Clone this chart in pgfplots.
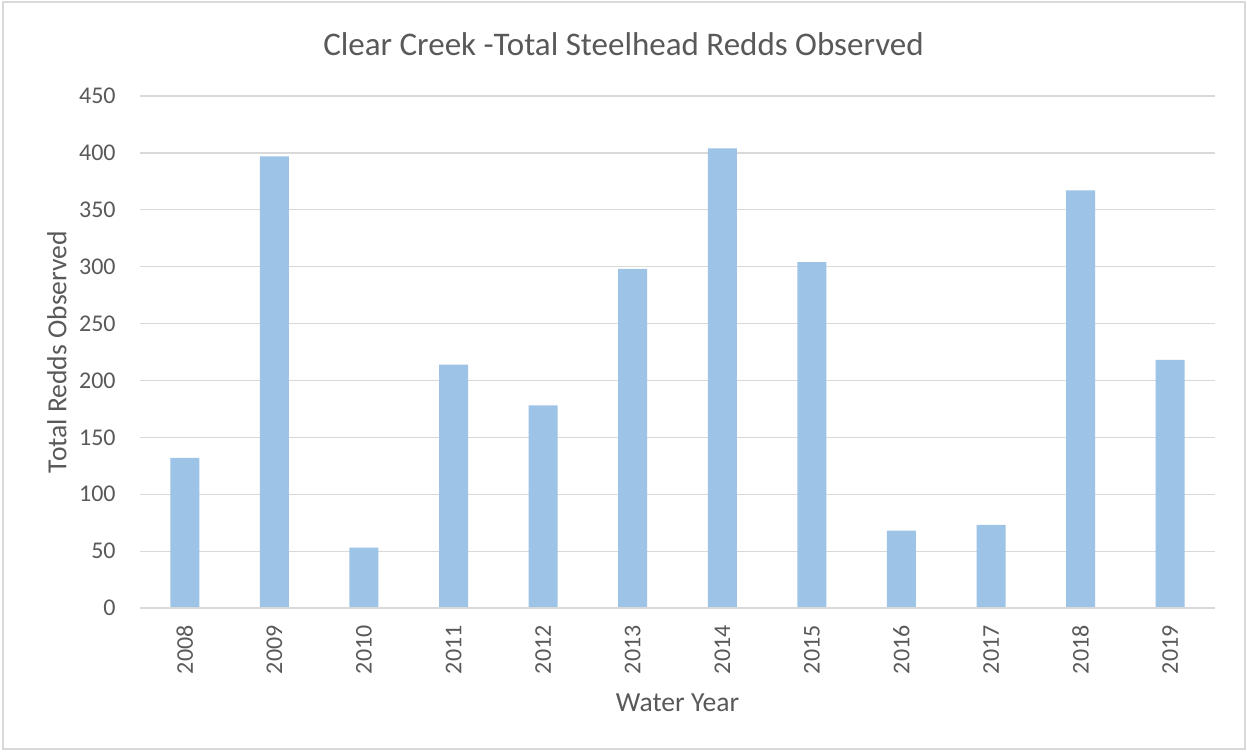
\documentclass[border=0pt]{standalone}
\usepackage{pgfplots}
\pgfplotsset{compat=1.18}
\usepackage{fontspec}
\setmainfont{Carlito}
\definecolor{barblue}{HTML}{9DC3E6}
\definecolor{txtgray}{HTML}{595959}
\definecolor{gridgray}{HTML}{D9D9D9}
\begin{document}
\begin{tikzpicture}
\useasboundingbox (0,0) rectangle (623.5pt,376pt);
\draw[gridgray, line width=0.6pt] (1.5pt,1.5pt) rectangle (622.5pt,375pt);
\node[txtgray, font=\fontsize{16.5pt}{19pt}\selectfont] at (311.75pt,354pt) {Clear Creek -Total Steelhead Redds Observed};
\begin{axis}[
  scale only axis,
  width=537.5pt, height=256pt,
  at={(70pt,72pt)}, anchor=south west,
  xmin=-0.5, xmax=11.5, ymin=0, ymax=450,
  ybar, bar width=14.5pt,
  xtick={0,...,11},
  xticklabels={2008,2009,2010,2011,2012,2013,2014,2015,2016,2017,2018,2019},
  ytick={0,50,...,450},
  /pgf/number format/assume math mode=true,
  axis line style={draw=none},
  major tick length=0pt,
  ymajorgrids,
  grid style={gridgray, line width=0.6pt},
  tick label style={txtgray, font=\fontsize{12pt}{14pt}\selectfont, inner sep=0pt},
  xticklabel style={rotate=90, anchor=east},
  xticklabel shift=8.5pt,
  yticklabel style={anchor=east},
  yticklabel shift=12pt,
  xlabel={Water Year},
  ylabel={Total Redds Observed},
  label style={txtgray, font=\fontsize{13.8pt}{16pt}\selectfont},
  xlabel style={at={(axis description cs:0.5,-0.1855)}, anchor=center},
  ylabel style={at={(axis description cs:-0.0772,0.5)}, anchor=center},
  clip=false,
]
\addplot[fill=barblue, draw=none] coordinates {
(0,132) (1,397) (2,53) (3,214) (4,178) (5,298) (6,404) (7,304) (8,68) (9,73) (10,367) (11,218)
};
\draw[gridgray, line width=0.9pt] (axis cs:-0.5,0) -- (axis cs:11.5,0);
\end{axis}
\end{tikzpicture}
\end{document}
